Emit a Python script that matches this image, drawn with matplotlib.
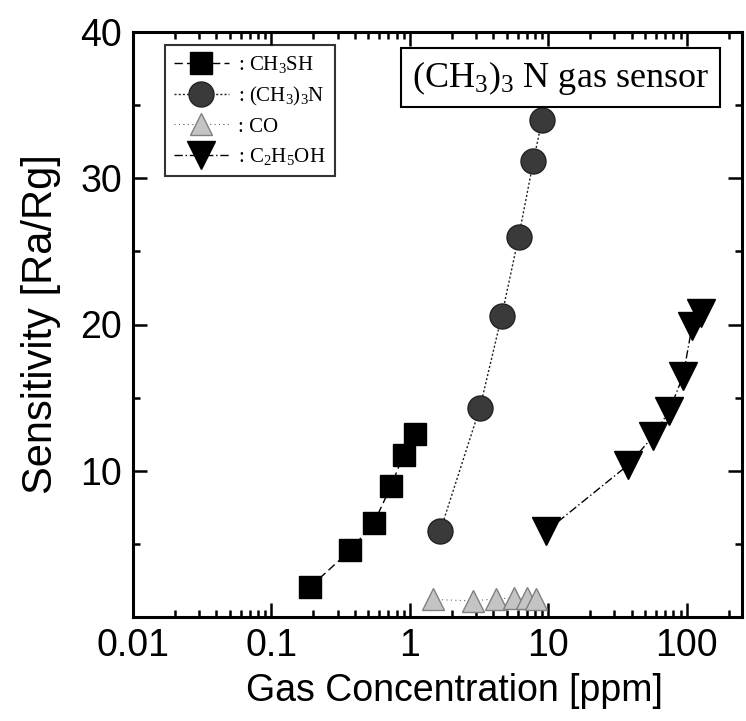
import matplotlib
matplotlib.use("Agg")
import matplotlib.pyplot as plt
from matplotlib.ticker import FixedLocator, FixedFormatter, LogLocator, NullFormatter

plt.rcParams['font.family'] = ['Liberation Sans', 'DejaVu Sans']
plt.rcParams['mathtext.fontset'] = 'custom'
plt.rcParams['mathtext.rm'] = 'Liberation Serif'
plt.rcParams['mathtext.it'] = 'Liberation Serif:italic'

# ---- data ----
ch3sh_x = [0.19, 0.37, 0.55, 0.73, 0.90, 1.09]
ch3sh_y = [2.05, 4.55, 6.45, 8.95, 11.1, 12.5]

tma_x = [1.65, 3.2, 4.6, 6.1, 7.8, 9.0]
tma_y = [5.85, 14.3, 20.6, 26.0, 31.2, 34.0]

co_x = [1.47, 2.87, 4.2, 5.6, 7.0, 8.2]
co_y = [1.2, 1.1, 1.25, 1.3, 1.3, 1.25]

etoh_x = [9.6, 37.7, 57, 74.5, 94, 109, 126]
etoh_y = [5.85, 10.4, 12.35, 14.1, 16.5, 19.9, 20.8]

x_ticks = [0.01, 0.1, 1, 10, 100]
x_ticklabels = ['0.01', '0.1', '1', '10', '100']
y_ticks = [10, 20, 30, 40]
y_ticklabels = ['10', '20', '30', '40']

labels = [r': CH$_3$SH', r': (CH$_3$)$_3$N', r': CO', r': C$_2$H$_5$OH']

fig = plt.figure(figsize=(7.46, 7.21), dpi=100)
ax = fig.add_axes([133/746, 1-617/721, (742-133)/746, (617-32)/721])

ax.plot(ch3sh_x, ch3sh_y, linestyle=(0, (6, 3)), color='black', lw=1.0,
        marker='s', ms=16, mfc='black', mec='black', label=labels[0])
ax.plot(tma_x, tma_y, linestyle=(0, (1.5, 1.5)), color='#222222', lw=1.0,
        marker='o', ms=18, mfc='#3a3a3a', mec='#222222', label=labels[1])
ax.plot(co_x, co_y, linestyle=(0, (1, 3)), color='#666666', lw=0.8,
        marker='^', ms=16, mfc='#c4c4c4', mec='#808080', mew=1.0, label=labels[2])
ax.plot(etoh_x, etoh_y, linestyle=(0, (6, 2, 1, 2)), color='black', lw=1.0,
        marker='v', ms=20, mfc='black', mec='black', label=labels[3])

ax.set_xscale('log')
ax.set_xlim(0.01, 250)
ax.set_ylim(0, 40)

ax.xaxis.set_major_locator(FixedLocator(x_ticks))
ax.xaxis.set_major_formatter(FixedFormatter(x_ticklabels))
ax.xaxis.set_minor_locator(LogLocator(base=10, subs=range(2, 10)))
ax.xaxis.set_minor_formatter(NullFormatter())
ax.yaxis.set_major_locator(FixedLocator(y_ticks))
ax.yaxis.set_major_formatter(FixedFormatter(y_ticklabels))
ax.yaxis.set_minor_locator(FixedLocator([5, 15, 25, 35]))

ax.tick_params(which='both', direction='in', top=True, right=True, width=1.8)
ax.tick_params(which='major', length=10, labelsize=27, pad=8)
ax.tick_params(which='minor', length=5)
for s in ax.spines.values():
    s.set_linewidth(2.2)

ax.set_xlabel('Gas Concentration [ppm]', fontsize=27, labelpad=8)
ax.xaxis.set_label_coords(0.527, -0.095)
ax.set_ylabel('Sensitivity [Ra/Rg]', fontsize=30, labelpad=14)

leg = ax.legend(loc='upper left', bbox_to_anchor=(0.0525, 0.978), borderaxespad=0,
                prop={'family': 'Liberation Serif', 'size': 15},
                handlelength=2.6, handletextpad=0.45, labelspacing=0.45,
                markerscale=1.0, frameon=True, fancybox=False, borderpad=0.45)
leg.get_frame().set_edgecolor('black')
leg.get_frame().set_linewidth(1.5)

ax.text(0.702, 0.922, r'(CH$_3$)$_3$ N gas sensor', transform=ax.transAxes,
        ha='center', va='center', fontsize=26, family='Liberation Serif',
        bbox=dict(boxstyle='square,pad=0.3', fc='white', ec='black', lw=1.5))

fig.savefig('out.png', dpi=100)
